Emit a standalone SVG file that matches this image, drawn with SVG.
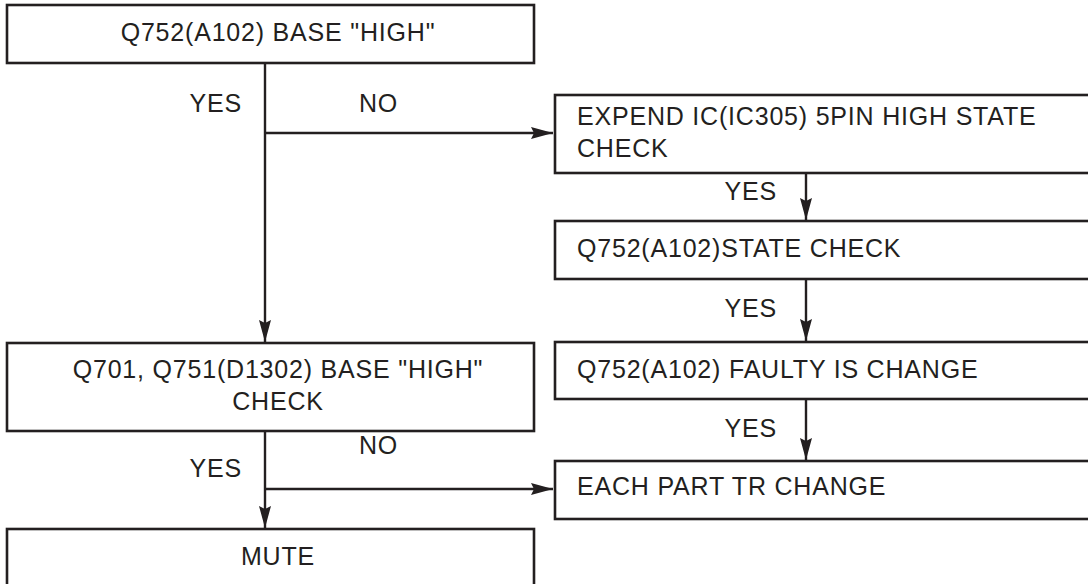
<svg xmlns="http://www.w3.org/2000/svg" width="1088" height="584" viewBox="0 0 1088 584">
<style>
.box{fill:#fff;stroke:#231f20;stroke-width:2.6}
.ln{fill:none;stroke:#231f20;stroke-width:2.4}
text{font-family:"Liberation Sans",Arial,sans-serif;font-size:25px;letter-spacing:0.8px;fill:#231f20}
.c{text-anchor:middle}
.r{text-anchor:end}
</style>
<defs>
<marker id="ah" markerUnits="userSpaceOnUse" markerWidth="24" markerHeight="14" refX="22" refY="6" orient="auto">
<path d="M0,0 L22,6 L0,12 L3,6 z" fill="#231f20"/>
</marker>
</defs>
<rect width="1088" height="584" fill="#fff"/>
<g id="connectors">
<line class="ln" x1="265" y1="63" x2="265" y2="342" marker-end="url(#ah)"/>
<line class="ln" x1="265" y1="133" x2="553" y2="133" marker-end="url(#ah)"/>
<line class="ln" x1="806" y1="173" x2="806" y2="220" marker-end="url(#ah)"/>
<line class="ln" x1="806" y1="279" x2="806" y2="341" marker-end="url(#ah)"/>
<line class="ln" x1="806" y1="399" x2="806" y2="460" marker-end="url(#ah)"/>
<line class="ln" x1="265" y1="431" x2="265" y2="528" marker-end="url(#ah)"/>
<line class="ln" x1="265" y1="489" x2="553" y2="489" marker-end="url(#ah)"/>
<text class="r" x="242" y="112">YES</text>
<text x="359" y="112">NO</text>
<text class="r" x="777" y="200">YES</text>
<text class="r" x="777" y="317">YES</text>
<text class="r" x="777" y="437">YES</text>
<text x="359" y="454">NO</text>
<text class="r" x="242" y="477">YES</text>
</g>
<g id="n1">
<rect class="box" x="7" y="5" width="527" height="58"/>
<text class="c" x="278" y="41">Q752(A102) BASE "HIGH"</text>
</g>
<g id="n2">
<rect class="box" x="555" y="95" width="545" height="78"/>
<text x="577" y="125">EXPEND IC(IC305) 5PIN HIGH STATE</text>
<text x="577" y="157">CHECK</text>
</g>
<g id="n3">
<rect class="box" x="555" y="221" width="545" height="58"/>
<text x="577" y="257">Q752(A102)STATE CHECK</text>
</g>
<g id="n4">
<rect class="box" x="555" y="342" width="545" height="57"/>
<text x="577" y="378">Q752(A102) FAULTY IS CHANGE</text>
</g>
<g id="n5">
<rect class="box" x="7" y="343" width="527" height="88"/>
<text class="c" x="278" y="378">Q701, Q751(D1302) BASE "HIGH"</text>
<text class="c" x="278" y="410">CHECK</text>
</g>
<g id="n6">
<rect class="box" x="555" y="461" width="545" height="58"/>
<text x="577" y="495">EACH PART TR CHANGE</text>
</g>
<g id="n7">
<rect class="box" x="7" y="529" width="527" height="70"/>
<text class="c" x="278" y="565">MUTE</text>
</g>
</svg>
